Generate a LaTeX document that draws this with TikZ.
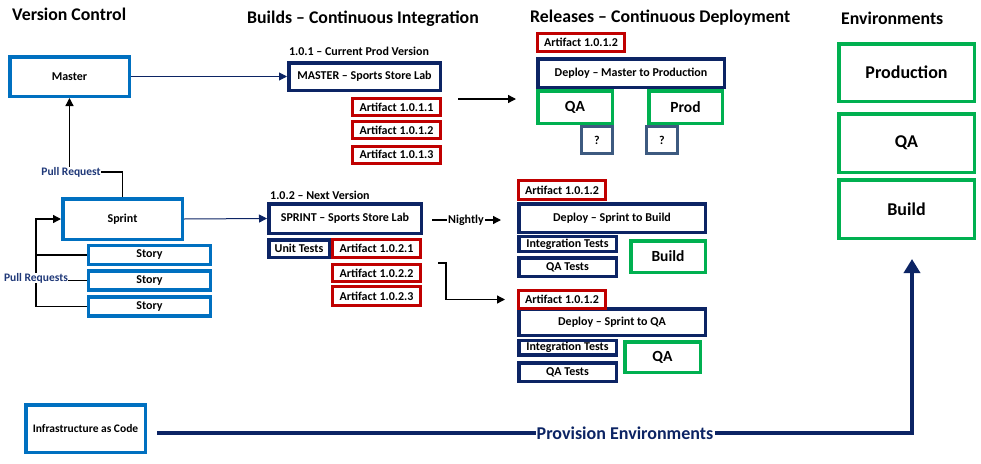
\documentclass[tikz,border=0pt]{standalone}
\usepackage{fontspec}
\setmainfont{Carlito}
\usetikzlibrary{arrows.meta}
\definecolor{lblue}{RGB}{0,112,192}
\definecolor{navyb}{RGB}{12,36,100}
\definecolor{redb}{RGB}{192,0,0}
\definecolor{greenb}{RGB}{0,176,80}
\definecolor{slateb}{RGB}{61,90,128}
\definecolor{labnavy}{RGB}{31,56,120}
\begin{document}
\begin{tikzpicture}[x=1pt,y=-1pt,
  bx/.style={fill=white,inner sep=0pt,font=\fontsize{12}{14}\selectfont\bfseries,align=center},
  lb/.style={bx,draw=lblue,line width=3.5pt},
  nv/.style={bx,draw=navyb,line width=3.5pt},
  rd/.style={bx,draw=redb,line width=3pt},
  gr/.style={bx,draw=greenb,line width=3.5pt},
  sl/.style={bx,draw=slateb,line width=3pt},
  head/.style={font=\fontsize{17.8}{20}\selectfont\bfseries,inner sep=0pt,anchor=west},
  sub/.style={font=\fontsize{12}{14}\selectfont\bfseries,inner sep=0pt},
  big/.style={font=\fontsize{15.5}{18}\selectfont\bfseries},
  huge/.style={font=\fontsize{18}{21}\selectfont\bfseries},
  thin/.style={line width=1.3pt,-{Triangle[length=8pt,width=8pt]}},
]
\useasboundingbox (0,0) rectangle (981,463);

% headings
\node[head] (h1) at (12,14) {Version Control};
\node[head] (h2) at (247,19) {Builds -- Continuous Integration};
\node[head] (h3) at (530,18) {Releases -- Continuous Deployment};
\node[head] (h4) at (841,18) {Environments};

% version control
\node[lb,minimum width=119.5pt,minimum height=39.5pt] (master) at (69.5,76.5) {Master};
\node[lb,minimum width=119.5pt,minimum height=40.5pt] (sprint) at (122.5,219) {Sprint};
\node[lb,minimum width=122pt,minimum height=19pt] (story1) at (149.5,255) {Story};
\node[lb,minimum width=122pt,minimum height=19pt] (story2) at (149.5,280.5) {Story};
\node[lb,minimum width=122pt,minimum height=19pt] (story3) at (149.5,306.5) {Story};
\node[lb,minimum width=119.5pt,minimum height=47.5pt,font=\fontsize{11.5}{13}\selectfont\bfseries] (infra) at (85.5,428.5) {Infrastructure as Code};

\node[sub,text=labnavy,font=\fontsize{11.5}{13}\selectfont\bfseries] (pr) at (71,172) {Pull Request};
\node[sub,text=labnavy,font=\fontsize{11.5}{13}\selectfont\bfseries] (prs) at (36,278) {Pull Requests};

% builds
\node[sub] (l101) at (359,51) {1.0.1 -- Current Prod Version};
\node[nv,minimum width=151.5pt,minimum height=27.5pt] (mlab) at (364.5,76.5) {MASTER -- Sports Store Lab};
\node[rd,minimum width=88pt,minimum height=17pt] (a1011) at (396.5,107) {Artifact 1.0.1.1};
\node[rd,minimum width=88pt,minimum height=17pt] (a1012) at (396.5,130) {Artifact 1.0.1.2};
\node[rd,minimum width=88pt,minimum height=17pt] (a1013) at (396.5,154.5) {Artifact 1.0.1.3};

\node[sub,anchor=west] (l102) at (270,195) {1.0.2 -- Next Version};
\node[nv,minimum width=152.5pt,minimum height=29.5pt] (slab) at (345,218.5) {SPRINT -- Sports Store Lab};
\node[nv,minimum width=60.5pt,minimum height=17.5pt] (unit) at (299,248.5) {Unit Tests};
\node[rd,minimum width=88pt,minimum height=18pt] (a1021) at (376.5,248.5) {Artifact 1.0.2.1};
\node[rd,minimum width=88pt,minimum height=17pt] (a1022) at (376.5,273) {Artifact 1.0.2.2};
\node[rd,minimum width=88pt,minimum height=19pt] (a1023) at (376.5,296) {Artifact 1.0.2.3};

% releases - master
\node[rd,minimum width=87pt,minimum height=18pt] (ra) at (581,42.5) {Artifact 1.0.1.2};
\node[nv,minimum width=186.5pt,minimum height=28.5pt] (dmp) at (631,73) {Deploy -- Master to Production};
\node[gr,big,minimum width=74.5pt,minimum height=32.5pt] (rqa) at (575,107) {QA};
\node[gr,big,minimum width=73.5pt,minimum height=32.5pt] (rprod) at (685.5,107) {Prod};
\node[sl,minimum width=31pt,minimum height=27pt] (q1) at (597,140) {?};
\node[sl,minimum width=31pt,minimum height=27pt] (q2) at (662,140) {?};

% releases - sprint to build
\node[nv,minimum width=186.5pt,minimum height=28.5pt] (dsb) at (612,218) {Deploy -- Sprint to Build};
\node[rd,minimum width=87pt,minimum height=19pt] (ba) at (562,190) {Artifact 1.0.1.2};
\node[nv,minimum width=97.5pt,minimum height=15pt] (bit) at (567.5,244) {Integration Tests};
\node[nv,minimum width=97.5pt,minimum height=18.5pt] (bqt) at (567.5,267) {QA Tests};
\node[gr,big,minimum width=74.5pt,minimum height=31.5pt] (bbuild) at (668,256.5) {Build};

% releases - sprint to qa
\node[nv,minimum width=186.5pt,minimum height=26.5pt] (dsq) at (612,322) {Deploy -- Sprint to QA};
\node[rd,minimum width=87pt,minimum height=18pt] (qa3) at (562,299.5) {Artifact 1.0.1.2};
\node[nv,minimum width=97.5pt,minimum height=14.5pt] (qit) at (567.5,347.5) {Integration Tests};
\node[nv,minimum width=97.5pt,minimum height=18.5pt] (qqt) at (567.5,372) {QA Tests};
\node[gr,big,minimum width=75.5pt,minimum height=30.5pt] (qqa) at (662.5,357) {QA};

% environments
\node[gr,huge,minimum width=135.5pt,minimum height=57.5pt] (eprod) at (906.5,72.5) {Production};
\node[gr,huge,minimum width=135.5pt,minimum height=58.5pt] (eqa) at (906.5,143) {QA};
\node[gr,huge,minimum width=135.5pt,minimum height=58.5pt] (ebuild) at (906.5,209) {Build};

% connectors: version control
\draw[thin,navyb,line width=1pt] (master.east) -- (mlab.west);
\draw[thin,navyb,line width=1pt] (sprint.east) -- (slab.west);
\draw[line width=1.3pt] (sprint.north) |- (pr.east);
\draw[thin] (master.south |- pr.north) -- (master.south);
\draw[line width=1.3pt] (story3.west) -| (prs.south);
\draw[thin] (prs.north) |- (sprint.west);
\draw[line width=1.3pt] (story1.west) -- (story1.west -| prs.north);
\draw[line width=1.3pt] (story2.west) -- (story2.west -| prs.east);

% connectors: builds -> releases
\coordinate (m1) at (458,99);
\coordinate (m2) at (516,99);
\draw[thin] (m1) -- (m2);
\node[sub,inner sep=1pt] (nightly) at (466,220) {Nightly};
\coordinate (n0) at (432,220);
\draw[line width=1.3pt] (n0) -- (nightly.west);
\draw[thin,shorten >=16pt] (nightly.east) -- (nightly.east -| dsb.west);
\coordinate (e0) at (438,263);
\draw[thin,shorten >=12pt] (e0) -- (446,263) |- (qa3.west);

% provision
\node[huge,text=navyb,fill=white,inner sep=1pt] (prov) at (625,433) {Provision Environments};
\coordinate (p0) at (157,433);
\coordinate (p1) at (912,259);
\draw[navyb,line width=3.5pt] (p0) -- (prov.west);
\draw[navyb,line width=3.5pt,-{Triangle[length=14pt,width=16pt]}] (prov.east) -| (p1);
\end{tikzpicture}
\end{document}
